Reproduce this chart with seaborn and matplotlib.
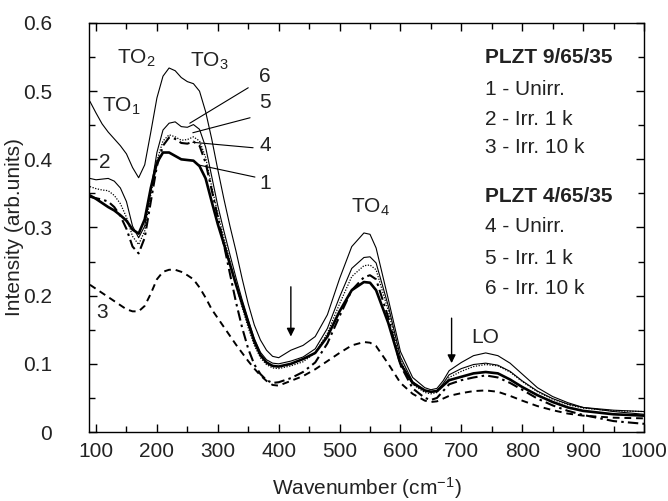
import numpy as np
import pandas as pd
import matplotlib
matplotlib.use("Agg")
import matplotlib.pyplot as plt
import seaborn as sns

# Wavenumber grid (cm^-1) shared by all spectra
wavenumber = [90, 100, 110, 120, 130, 140, 150, 160, 170, 180,
              190, 200, 210, 220, 230, 240, 250, 260, 270, 280,
              290, 300, 310, 320, 330, 340, 350, 360, 370, 380,
              390, 400, 420, 440, 460, 480, 500, 520, 540, 550,
              560, 580, 600, 620, 640, 650, 660, 670, 680, 700,
              720, 740, 760, 780, 800, 825, 850, 875, 900, 950, 1000]

# PLZT 9/65/35
s1_unirr = [0.347, 0.342, 0.336, 0.330, 0.325, 0.318, 0.310, 0.297, 0.291, 0.312,
            0.358, 0.395, 0.410, 0.410, 0.405, 0.400, 0.399, 0.398, 0.390, 0.372,
            0.338, 0.305, 0.276, 0.246, 0.216, 0.188, 0.160, 0.133, 0.113, 0.102,
            0.097, 0.096, 0.100, 0.107, 0.116, 0.140, 0.177, 0.208, 0.220, 0.219,
            0.208, 0.160, 0.100, 0.072, 0.061, 0.059, 0.060, 0.068, 0.076, 0.081,
            0.086, 0.088, 0.086, 0.077, 0.066, 0.054, 0.044, 0.036, 0.031, 0.026, 0.024]
s2_irr1k = [0.485, 0.468, 0.452, 0.440, 0.430, 0.420, 0.408, 0.388, 0.373, 0.392,
            0.440, 0.490, 0.522, 0.534, 0.530, 0.520, 0.514, 0.511, 0.500, 0.470,
            0.430, 0.385, 0.342, 0.302, 0.265, 0.225, 0.188, 0.157, 0.135, 0.120,
            0.111, 0.109, 0.120, 0.127, 0.140, 0.172, 0.225, 0.272, 0.292, 0.290,
            0.270, 0.195, 0.118, 0.080, 0.065, 0.062, 0.064, 0.075, 0.090, 0.102,
            0.112, 0.116, 0.112, 0.101, 0.085, 0.065, 0.052, 0.043, 0.036, 0.030, 0.026]
s3_irr10k = [0.216, 0.210, 0.204, 0.198, 0.192, 0.186, 0.180, 0.177, 0.177, 0.185,
             0.203, 0.224, 0.235, 0.238, 0.238, 0.235, 0.230, 0.224, 0.212, 0.197,
             0.180, 0.167, 0.154, 0.141, 0.128, 0.116, 0.104, 0.093, 0.083, 0.075,
             0.069, 0.068, 0.075, 0.082, 0.092, 0.104, 0.116, 0.127, 0.132, 0.131,
             0.126, 0.100, 0.072, 0.056, 0.046, 0.044, 0.045, 0.049, 0.053, 0.057,
             0.060, 0.061, 0.059, 0.053, 0.046, 0.038, 0.032, 0.027, 0.024, 0.021, 0.020]

# PLZT 4/65/35
s4_unirr = [0.345, 0.343, 0.341, 0.338, 0.330, 0.317, 0.298, 0.272, 0.262, 0.285,
            0.338, 0.390, 0.420, 0.432, 0.430, 0.424, 0.423, 0.426, 0.420, 0.395,
            0.355, 0.315, 0.275, 0.232, 0.190, 0.153, 0.122, 0.099, 0.085, 0.076,
            0.072, 0.073, 0.079, 0.088, 0.102, 0.130, 0.170, 0.208, 0.227, 0.230,
            0.224, 0.168, 0.098, 0.064, 0.050, 0.047, 0.050, 0.060, 0.070, 0.076,
            0.080, 0.083, 0.080, 0.072, 0.062, 0.049, 0.039, 0.031, 0.025, 0.016, 0.012]
s5_irr1k = [0.360, 0.357, 0.355, 0.354, 0.347, 0.335, 0.315, 0.287, 0.275, 0.295,
            0.348, 0.398, 0.427, 0.436, 0.433, 0.428, 0.429, 0.433, 0.427, 0.403,
            0.360, 0.320, 0.285, 0.250, 0.216, 0.183, 0.153, 0.127, 0.109, 0.099,
            0.094, 0.093, 0.097, 0.103, 0.116, 0.145, 0.188, 0.228, 0.244, 0.245,
            0.238, 0.178, 0.105, 0.070, 0.058, 0.056, 0.058, 0.068, 0.080, 0.089,
            0.096, 0.099, 0.097, 0.088, 0.074, 0.059, 0.048, 0.040, 0.035, 0.031, 0.030]
s6_irr10k = [0.372, 0.370, 0.371, 0.372, 0.368, 0.358, 0.338, 0.302, 0.285, 0.302,
             0.355, 0.410, 0.443, 0.453, 0.455, 0.448, 0.447, 0.451, 0.444, 0.418,
             0.375, 0.332, 0.295, 0.260, 0.226, 0.194, 0.165, 0.137, 0.117, 0.106,
             0.101, 0.100, 0.104, 0.110, 0.122, 0.152, 0.198, 0.240, 0.256, 0.257,
             0.248, 0.185, 0.110, 0.074, 0.061, 0.059, 0.061, 0.071, 0.084, 0.093,
             0.099, 0.101, 0.098, 0.089, 0.075, 0.060, 0.049, 0.041, 0.036, 0.032, 0.030]

y_ticks = [0, 0.1, 0.2, 0.3, 0.4, 0.5, 0.6]
y_tick_labels = ["0", "0.1", "0.2", "0.3", "0.4", "0.5", "0.6"]
x_ticks = [100, 200, 300, 400, 500, 600, 700, 800, 900, 1000]

sns.set_theme(style="ticks")
plt.rcParams["font.family"] = ["Liberation Sans", "DejaVu Sans"]
plt.rcParams["mathtext.fontset"] = "custom"
plt.rcParams["mathtext.rm"] = "Liberation Sans"
plt.rcParams["mathtext.it"] = "Liberation Sans:italic"
plt.rcParams["mathtext.bf"] = "Liberation Sans:bold"

FS = 15
fig = plt.figure(figsize=(6.68, 5.01), dpi=100)
ax = fig.add_axes([89.5 / 668, 69 / 501, (644 - 89.5) / 668, (432 - 23) / 501])

styles = [
    (s1_unirr, dict(lw=1.9, linestyle="-")),
    (s2_irr1k, dict(lw=0.8, linestyle="-")),
    (s3_irr10k, dict(lw=1.4, linestyle=(0, (3.5, 2.5)))),
    (s4_unirr, dict(lw=1.5, linestyle=(0, (5, 2, 1.2, 2)))),
    (s5_irr1k, dict(lw=0.9, linestyle=(0, (1, 1.2)))),
    (s6_irr10k, dict(lw=0.8, linestyle="-")),
]
for vals, kw in styles:
    df = pd.DataFrame({"wn": wavenumber, "I": vals})
    sns.lineplot(data=df, x="wn", y="I", ax=ax, color="black", **kw)

ax.set_xlim(89.3, 1000)
ax.set_ylim(0, 0.6)
ax.set_xticks(x_ticks)
ax.set_xticks(np.arange(150, 1000, 100), minor=True)
ax.set_yticks(y_ticks)
ax.set_yticklabels(y_tick_labels)
ax.set_yticks(np.arange(0.05, 0.6, 0.1), minor=True)
ax.tick_params(which="both", direction="in", top=True, right=True,
               labelsize=FS, colors="black", labelcolor="#222222", width=1)
ax.tick_params(which="major", length=6)
ax.tick_params(which="minor", length=4)
ax.tick_params(axis="x", which="major", pad=7)
ax.tick_params(axis="y", which="major", pad=27)
for sp in ax.spines.values():
    sp.set_visible(True)
    sp.set_color("black")
    sp.set_linewidth(1.0)

ax.set_xlabel("Wavenumber (cm$^{-1}$)", fontsize=FS, color="#222222")
ax.set_ylabel("Intensity (arb.units)", fontsize=FS, color="#222222")
ax.xaxis.set_label_coords(0.5, -0.105)
ax.yaxis.set_label_coords(-0.119, 0.5)

# Mode labels
tc = "#222222"
ax.text(141, 0.477, "TO$_1$", fontsize=FS, ha="center", va="center", color=tc)
ax.text(166, 0.548, "TO$_2$", fontsize=FS, ha="center", va="center", color=tc)
ax.text(286, 0.544, "TO$_3$", fontsize=FS, ha="center", va="center", color=tc)
ax.text(550, 0.329, "TO$_4$", fontsize=FS, ha="center", va="center", color=tc)
ax.text(739, 0.139, "LO", fontsize=FS, ha="center", va="center", color=tc)

# Curve numbers
ax.text(115, 0.396, "2", fontsize=FS, ha="center", va="center", color=tc)
ax.text(110, 0.176, "3", fontsize=FS, ha="center", va="center", color=tc)
leaders = [
    ("6", (254, 0.453), (350, 0.505), 0.521),
    ("5", (259, 0.439), (353, 0.461), 0.483),
    ("4", (259, 0.425), (358, 0.417), 0.421),
    ("1", (267, 0.392), (361, 0.374), 0.365),
]
for lab, p0, p1, ly in leaders:
    ax.plot([p0[0], p1[0]], [p0[1], p1[1]], color="black", lw=0.8)
    ax.text(378, ly, lab, fontsize=FS, ha="center", va="center", color=tc)

# Arrows marking the extra features
for xa, y0, y1 in [(420, 0.213, 0.140), (684, 0.167, 0.101)]:
    ax.annotate("", xy=(xa, y1), xytext=(xa, y0),
                arrowprops=dict(arrowstyle="-|>", color="black", lw=1.0,
                                mutation_scale=12, shrinkA=0, shrinkB=0))

# Sample key
key = [
    ("PLZT 9/65/35", 0.549, "bold"),
    ("1 - Unirr.", 0.502, "normal"),
    ("2 - Irr. 1 k", 0.459, "normal"),
    ("3 - Irr. 10 k", 0.417, "normal"),
    ("PLZT 4/65/35", 0.345, "bold"),
    ("4 - Unirr.", 0.301, "normal"),
    ("5 - Irr. 1 k", 0.255, "normal"),
    ("6 - Irr. 10 k", 0.211, "normal"),
]
for txt, ky, wt in key:
    ax.text(739, ky, txt, fontsize=FS, fontweight=wt, ha="left", va="center", color=tc)

fig.savefig("out.png", dpi=100)
